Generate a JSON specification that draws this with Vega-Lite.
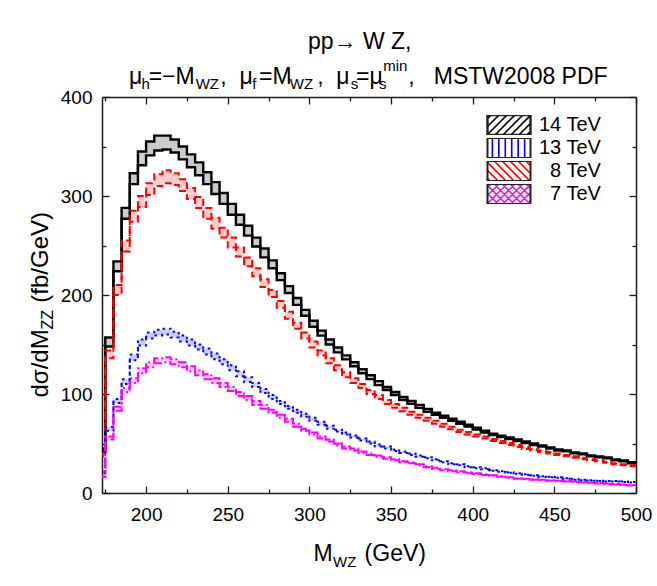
{
  "$schema": "https://vega.github.io/schema/vega-lite/v6.json",
  "width": 534,
  "height": 396,
  "autosize": {"type": "none"},
  "padding": {"left": 102, "top": 97, "right": 21, "bottom": 93},
  "background": "white",
  "config": {
    "font": "Liberation Sans",
    "view": {"stroke": null},
    "axis": {"grid": false, "domainColor": "#1a1a1a", "domainWidth": 1.5, "tickColor": "#1a1a1a", "tickWidth": 1.3, "labelFont": "Liberation Sans", "labelFontSize": 19, "labelColor": "#000", "titleFont": "Liberation Sans", "titleFontWeight": "normal", "titleColor": "#000", "labelFlush": false, "labelOverlap": false, "labelBound": false},
    "title": {"font": "Liberation Sans", "fontWeight": "normal", "color": "#000", "subtitleFont": "Liberation Sans", "subtitleColor": "#000"}
  },
  "title": {
    "text": ["\u200b\u00a0\u00a0\u00a0\u00a0\u00a0\u00a0\u00a0\u00a0\u00a0\u00a0\u00a0\u00a0\u00a0\u00a0\u00a0\u00a0\u00a0\u00a0\u00a0\u00a0\u00a0\u00a0\u00a0\u00a0\u00a0\u00a0\u00a0\u00a0pp\u2192 W Z,", "\u03bc\u00a0=\u2212M\u00a0\u00a0\u00a0\u00a0,\u00a0\u00a0\u03bc\u00a0=M\u00a0\u00a0\u00a0\u00a0,\u00a0\u00a0\u03bc\u00a0=\u03bc\u00a0\u00a0\u00a0\u00a0,\u00a0\u00a0\u00a0MSTW2008 PDF"],
    "subtitle": ["\u200b\u00a0\u00a0\u00a0\u00a0\u00a0\u00a0\u00a0\u00a0\u00a0\u00a0\u00a0\u00a0\u00a0\u00a0\u00a0\u00a0\u00a0\u00a0\u00a0\u00a0\u00a0\u00a0\u00a0\u00a0\u00a0\u00a0\u00a0\u00a0\u00a0\u00a0\u00a0\u00a0\u00a0\u00a0\u00a0\u00a0\u00a0\u00a0\u00a0\u00a0\u00a0\u00a0\u00a0\u00a0\u00a0\u00a0\u00a0\u00a0\u00a0\u00a0\u00a0\u00a0\u00a0\u00a0\u00a0\u00a0\u00a0\u00a0\u00a0\u00a0\u00a0min", "\u200b\u00a0\u00a0\u00a0h\u00a0\u00a0\u00a0\u00a0\u00a0\u00a0\u00a0\u00a0\u00a0\u00a0\u00a0WZ\u00a0\u00a0\u00a0\u00a0\u00a0\u00a0\u00a0\u00a0f\u00a0\u00a0\u00a0\u00a0\u00a0\u00a0\u00a0\u00a0WZ\u00a0\u00a0\u00a0\u00a0\u00a0\u00a0\u00a0\u00a0\u00a0s\u00a0\u00a0\u00a0\u00a0\u00a0s"],
    "anchor": "start",
    "frame": "group",
    "align": "left",
    "dx": 27,
    "offset": -4,
    "fontSize": 23,
    "lineHeight": 35,
    "subtitleFontSize": 15,
    "subtitleLineHeight": 18,
    "subtitlePadding": -30
  },
  "data": {"values": [
    {"x":170,"s":"14 TeV","hi":45,"lo":42},{"x":175,"s":"14 TeV","hi":157,"lo":148},{"x":180,"s":"14 TeV","hi":234,"lo":224},{"x":185,"s":"14 TeV","hi":288,"lo":277},{"x":190,"s":"14 TeV","hi":323,"lo":312},{"x":195,"s":"14 TeV","hi":345,"lo":331},{"x":200,"s":"14 TeV","hi":355,"lo":341},{"x":205,"s":"14 TeV","hi":361,"lo":346},{"x":210,"s":"14 TeV","hi":361,"lo":347},{"x":215,"s":"14 TeV","hi":357,"lo":344},{"x":220,"s":"14 TeV","hi":350,"lo":337},{"x":225,"s":"14 TeV","hi":342,"lo":329},{"x":230,"s":"14 TeV","hi":334,"lo":321},{"x":235,"s":"14 TeV","hi":324,"lo":312},{"x":240,"s":"14 TeV","hi":314,"lo":302},{"x":245,"s":"14 TeV","hi":303,"lo":292},{"x":250,"s":"14 TeV","hi":292,"lo":281},{"x":255,"s":"14 TeV","hi":281,"lo":271},{"x":260,"s":"14 TeV","hi":270,"lo":260},{"x":265,"s":"14 TeV","hi":258,"lo":249},{"x":270,"s":"14 TeV","hi":247,"lo":238},{"x":275,"s":"14 TeV","hi":235,"lo":227},{"x":280,"s":"14 TeV","hi":222,"lo":215},{"x":285,"s":"14 TeV","hi":209,"lo":202},{"x":290,"s":"14 TeV","hi":197,"lo":190},{"x":295,"s":"14 TeV","hi":185,"lo":179},{"x":300,"s":"14 TeV","hi":174,"lo":168},{"x":305,"s":"14 TeV","hi":164,"lo":159},{"x":310,"s":"14 TeV","hi":155,"lo":150},{"x":315,"s":"14 TeV","hi":147,"lo":142},{"x":320,"s":"14 TeV","hi":139,"lo":135},{"x":325,"s":"14 TeV","hi":132,"lo":128},{"x":330,"s":"14 TeV","hi":125,"lo":121},{"x":335,"s":"14 TeV","hi":119,"lo":115},{"x":340,"s":"14 TeV","hi":113,"lo":109},{"x":345,"s":"14 TeV","hi":107,"lo":104},{"x":350,"s":"14 TeV","hi":102,"lo":99},{"x":355,"s":"14 TeV","hi":97,"lo":94},{"x":360,"s":"14 TeV","hi":93,"lo":90},{"x":365,"s":"14 TeV","hi":89,"lo":86},{"x":370,"s":"14 TeV","hi":85,"lo":82},{"x":375,"s":"14 TeV","hi":81,"lo":79},{"x":380,"s":"14 TeV","hi":78,"lo":76},{"x":385,"s":"14 TeV","hi":75,"lo":73},{"x":390,"s":"14 TeV","hi":72,"lo":70},{"x":395,"s":"14 TeV","hi":69,"lo":67},{"x":400,"s":"14 TeV","hi":66,"lo":64},{"x":405,"s":"14 TeV","hi":63,"lo":61},{"x":410,"s":"14 TeV","hi":60,"lo":58.5},{"x":415,"s":"14 TeV","hi":58,"lo":56.5},{"x":420,"s":"14 TeV","hi":56,"lo":54.5},{"x":425,"s":"14 TeV","hi":54,"lo":52.5},{"x":430,"s":"14 TeV","hi":52,"lo":50.5},{"x":435,"s":"14 TeV","hi":50,"lo":48.5},{"x":440,"s":"14 TeV","hi":48,"lo":47},{"x":445,"s":"14 TeV","hi":46,"lo":45},{"x":450,"s":"14 TeV","hi":44,"lo":43},{"x":455,"s":"14 TeV","hi":43,"lo":42},{"x":460,"s":"14 TeV","hi":41,"lo":40},{"x":465,"s":"14 TeV","hi":40,"lo":39},{"x":470,"s":"14 TeV","hi":38,"lo":37},{"x":475,"s":"14 TeV","hi":37,"lo":36},{"x":480,"s":"14 TeV","hi":36,"lo":35},{"x":485,"s":"14 TeV","hi":34,"lo":33},{"x":490,"s":"14 TeV","hi":33,"lo":32},{"x":495,"s":"14 TeV","hi":31,"lo":30},{"x":500,"s":"14 TeV","hi":31,"lo":30},
    {"x":170,"s":"8 TeV","hi":40,"lo":37},{"x":175,"s":"8 TeV","hi":144,"lo":136},{"x":180,"s":"8 TeV","hi":210,"lo":200},{"x":185,"s":"8 TeV","hi":255,"lo":244},{"x":190,"s":"8 TeV","hi":285,"lo":274},{"x":195,"s":"8 TeV","hi":300,"lo":289},{"x":200,"s":"8 TeV","hi":313,"lo":301},{"x":205,"s":"8 TeV","hi":322,"lo":310},{"x":210,"s":"8 TeV","hi":326,"lo":313},{"x":215,"s":"8 TeV","hi":323,"lo":311},{"x":220,"s":"8 TeV","hi":317,"lo":305},{"x":225,"s":"8 TeV","hi":308,"lo":297},{"x":230,"s":"8 TeV","hi":299,"lo":288},{"x":235,"s":"8 TeV","hi":288,"lo":277},{"x":240,"s":"8 TeV","hi":278,"lo":267},{"x":245,"s":"8 TeV","hi":268,"lo":258},{"x":250,"s":"8 TeV","hi":258,"lo":248},{"x":255,"s":"8 TeV","hi":248,"lo":239},{"x":260,"s":"8 TeV","hi":238,"lo":229},{"x":265,"s":"8 TeV","hi":227,"lo":219},{"x":270,"s":"8 TeV","hi":216,"lo":208},{"x":275,"s":"8 TeV","hi":205,"lo":198},{"x":280,"s":"8 TeV","hi":194,"lo":187},{"x":285,"s":"8 TeV","hi":183,"lo":176},{"x":290,"s":"8 TeV","hi":172,"lo":166},{"x":295,"s":"8 TeV","hi":162,"lo":156},{"x":300,"s":"8 TeV","hi":153,"lo":147},{"x":305,"s":"8 TeV","hi":144,"lo":139},{"x":310,"s":"8 TeV","hi":136,"lo":131},{"x":315,"s":"8 TeV","hi":129,"lo":124},{"x":320,"s":"8 TeV","hi":122,"lo":117},{"x":325,"s":"8 TeV","hi":116,"lo":111},{"x":330,"s":"8 TeV","hi":110,"lo":106},{"x":335,"s":"8 TeV","hi":104,"lo":100},{"x":340,"s":"8 TeV","hi":99,"lo":95},{"x":345,"s":"8 TeV","hi":94,"lo":90},{"x":350,"s":"8 TeV","hi":90,"lo":86},{"x":355,"s":"8 TeV","hi":86,"lo":82.5},{"x":360,"s":"8 TeV","hi":82,"lo":79},{"x":365,"s":"8 TeV","hi":79,"lo":76},{"x":370,"s":"8 TeV","hi":76,"lo":73},{"x":375,"s":"8 TeV","hi":73,"lo":70},{"x":380,"s":"8 TeV","hi":70,"lo":67},{"x":385,"s":"8 TeV","hi":67,"lo":64.5},{"x":390,"s":"8 TeV","hi":64,"lo":61.5},{"x":395,"s":"8 TeV","hi":61.5,"lo":59},{"x":400,"s":"8 TeV","hi":59,"lo":57},{"x":405,"s":"8 TeV","hi":57,"lo":55},{"x":410,"s":"8 TeV","hi":54.5,"lo":52.5},{"x":415,"s":"8 TeV","hi":52.5,"lo":50.5},{"x":420,"s":"8 TeV","hi":50.5,"lo":48.5},{"x":425,"s":"8 TeV","hi":48.5,"lo":46.5},{"x":430,"s":"8 TeV","hi":46.5,"lo":44.5},{"x":435,"s":"8 TeV","hi":44.5,"lo":43},{"x":440,"s":"8 TeV","hi":43,"lo":41.5},{"x":445,"s":"8 TeV","hi":41.5,"lo":40},{"x":450,"s":"8 TeV","hi":40,"lo":38.5},{"x":455,"s":"8 TeV","hi":38.5,"lo":37},{"x":460,"s":"8 TeV","hi":37,"lo":35.5},{"x":465,"s":"8 TeV","hi":35.5,"lo":34},{"x":470,"s":"8 TeV","hi":34,"lo":33},{"x":475,"s":"8 TeV","hi":33,"lo":32},{"x":480,"s":"8 TeV","hi":31.5,"lo":30.5},{"x":485,"s":"8 TeV","hi":30,"lo":29},{"x":490,"s":"8 TeV","hi":29,"lo":28},{"x":495,"s":"8 TeV","hi":28,"lo":27},{"x":500,"s":"8 TeV","hi":28,"lo":27},
    {"x":170,"s":"13 TeV","hi":22,"lo":20},{"x":175,"s":"13 TeV","hi":67,"lo":63},{"x":180,"s":"13 TeV","hi":95,"lo":91},{"x":185,"s":"13 TeV","hi":115,"lo":110},{"x":190,"s":"13 TeV","hi":140,"lo":134},{"x":195,"s":"13 TeV","hi":155,"lo":149},{"x":200,"s":"13 TeV","hi":162,"lo":156},{"x":205,"s":"13 TeV","hi":165,"lo":159},{"x":210,"s":"13 TeV","hi":166,"lo":160},{"x":215,"s":"13 TeV","hi":163,"lo":157},{"x":220,"s":"13 TeV","hi":159,"lo":153},{"x":225,"s":"13 TeV","hi":155,"lo":149},{"x":230,"s":"13 TeV","hi":150,"lo":145},{"x":235,"s":"13 TeV","hi":146,"lo":140},{"x":240,"s":"13 TeV","hi":141,"lo":135},{"x":245,"s":"13 TeV","hi":135,"lo":130},{"x":250,"s":"13 TeV","hi":129,"lo":124},{"x":255,"s":"13 TeV","hi":123,"lo":118},{"x":260,"s":"13 TeV","hi":117,"lo":112},{"x":265,"s":"13 TeV","hi":111,"lo":107},{"x":270,"s":"13 TeV","hi":105,"lo":101},{"x":275,"s":"13 TeV","hi":99,"lo":95},{"x":280,"s":"13 TeV","hi":93,"lo":90},{"x":285,"s":"13 TeV","hi":88,"lo":85},{"x":290,"s":"13 TeV","hi":84,"lo":81},{"x":295,"s":"13 TeV","hi":80,"lo":77},{"x":300,"s":"13 TeV","hi":76,"lo":73},{"x":305,"s":"13 TeV","hi":72,"lo":69},{"x":310,"s":"13 TeV","hi":68,"lo":65},{"x":315,"s":"13 TeV","hi":64,"lo":62},{"x":320,"s":"13 TeV","hi":61,"lo":59},{"x":325,"s":"13 TeV","hi":58,"lo":56},{"x":330,"s":"13 TeV","hi":55,"lo":53},{"x":335,"s":"13 TeV","hi":52,"lo":50},{"x":340,"s":"13 TeV","hi":49,"lo":47},{"x":345,"s":"13 TeV","hi":47,"lo":45},{"x":350,"s":"13 TeV","hi":44,"lo":42.5},{"x":355,"s":"13 TeV","hi":42,"lo":40.5},{"x":360,"s":"13 TeV","hi":40,"lo":38.5},{"x":365,"s":"13 TeV","hi":38,"lo":36.5},{"x":370,"s":"13 TeV","hi":36,"lo":35},{"x":375,"s":"13 TeV","hi":34,"lo":33},{"x":380,"s":"13 TeV","hi":32,"lo":31},{"x":385,"s":"13 TeV","hi":30,"lo":29},{"x":390,"s":"13 TeV","hi":29,"lo":28},{"x":395,"s":"13 TeV","hi":27,"lo":26},{"x":400,"s":"13 TeV","hi":26,"lo":25},{"x":405,"s":"13 TeV","hi":25,"lo":24},{"x":410,"s":"13 TeV","hi":23,"lo":22.5},{"x":415,"s":"13 TeV","hi":22,"lo":21.5},{"x":420,"s":"13 TeV","hi":21,"lo":20.5},{"x":425,"s":"13 TeV","hi":20,"lo":19.5},{"x":430,"s":"13 TeV","hi":19,"lo":18.5},{"x":435,"s":"13 TeV","hi":18,"lo":17.5},{"x":440,"s":"13 TeV","hi":17,"lo":16.5},{"x":445,"s":"13 TeV","hi":16.5,"lo":16},{"x":450,"s":"13 TeV","hi":16,"lo":15.5},{"x":455,"s":"13 TeV","hi":15,"lo":14.5},{"x":460,"s":"13 TeV","hi":14,"lo":13.5},{"x":465,"s":"13 TeV","hi":13.5,"lo":13},{"x":470,"s":"13 TeV","hi":13,"lo":12.5},{"x":475,"s":"13 TeV","hi":12.5,"lo":12},{"x":480,"s":"13 TeV","hi":12,"lo":11.5},{"x":485,"s":"13 TeV","hi":12,"lo":11.5},{"x":490,"s":"13 TeV","hi":11.5,"lo":11},{"x":495,"s":"13 TeV","hi":11,"lo":10.5},{"x":500,"s":"13 TeV","hi":11,"lo":10.5},
    {"x":170,"s":"7 TeV","hi":17,"lo":16},{"x":175,"s":"7 TeV","hi":57,"lo":54},{"x":180,"s":"7 TeV","hi":87,"lo":83},{"x":185,"s":"7 TeV","hi":106,"lo":102},{"x":190,"s":"7 TeV","hi":116,"lo":111},{"x":195,"s":"7 TeV","hi":126,"lo":121},{"x":200,"s":"7 TeV","hi":132,"lo":127},{"x":205,"s":"7 TeV","hi":136,"lo":131},{"x":210,"s":"7 TeV","hi":137,"lo":132},{"x":215,"s":"7 TeV","hi":135,"lo":130},{"x":220,"s":"7 TeV","hi":132,"lo":127},{"x":225,"s":"7 TeV","hi":128,"lo":123},{"x":230,"s":"7 TeV","hi":124,"lo":119},{"x":235,"s":"7 TeV","hi":120,"lo":115},{"x":240,"s":"7 TeV","hi":116,"lo":111},{"x":245,"s":"7 TeV","hi":111,"lo":107},{"x":250,"s":"7 TeV","hi":107,"lo":103},{"x":255,"s":"7 TeV","hi":102,"lo":98},{"x":260,"s":"7 TeV","hi":98,"lo":94},{"x":265,"s":"7 TeV","hi":93,"lo":89},{"x":270,"s":"7 TeV","hi":89,"lo":85},{"x":275,"s":"7 TeV","hi":84,"lo":81},{"x":280,"s":"7 TeV","hi":79,"lo":76},{"x":285,"s":"7 TeV","hi":75,"lo":72},{"x":290,"s":"7 TeV","hi":70,"lo":67},{"x":295,"s":"7 TeV","hi":65,"lo":63},{"x":300,"s":"7 TeV","hi":61,"lo":59},{"x":305,"s":"7 TeV","hi":57,"lo":55},{"x":310,"s":"7 TeV","hi":54,"lo":52},{"x":315,"s":"7 TeV","hi":50,"lo":48},{"x":320,"s":"7 TeV","hi":47,"lo":45},{"x":325,"s":"7 TeV","hi":45,"lo":43},{"x":330,"s":"7 TeV","hi":42,"lo":40.5},{"x":335,"s":"7 TeV","hi":40,"lo":38.5},{"x":340,"s":"7 TeV","hi":38,"lo":36.5},{"x":345,"s":"7 TeV","hi":36,"lo":34.5},{"x":350,"s":"7 TeV","hi":34,"lo":33},{"x":355,"s":"7 TeV","hi":32,"lo":31},{"x":360,"s":"7 TeV","hi":31,"lo":30},{"x":365,"s":"7 TeV","hi":29,"lo":28},{"x":370,"s":"7 TeV","hi":27,"lo":26},{"x":375,"s":"7 TeV","hi":25.5,"lo":24.5},{"x":380,"s":"7 TeV","hi":24,"lo":23},{"x":385,"s":"7 TeV","hi":23,"lo":22},{"x":390,"s":"7 TeV","hi":22,"lo":21},{"x":395,"s":"7 TeV","hi":21,"lo":20},{"x":400,"s":"7 TeV","hi":20,"lo":19.3},{"x":405,"s":"7 TeV","hi":19,"lo":18.3},{"x":410,"s":"7 TeV","hi":18,"lo":17.3},{"x":415,"s":"7 TeV","hi":17,"lo":16.4},{"x":420,"s":"7 TeV","hi":16,"lo":15.4},{"x":425,"s":"7 TeV","hi":15,"lo":14.5},{"x":430,"s":"7 TeV","hi":14.5,"lo":14},{"x":435,"s":"7 TeV","hi":14,"lo":13.5},{"x":440,"s":"7 TeV","hi":13.5,"lo":13},{"x":445,"s":"7 TeV","hi":13,"lo":12.5},{"x":450,"s":"7 TeV","hi":12.5,"lo":12},{"x":455,"s":"7 TeV","hi":12,"lo":11.6},{"x":460,"s":"7 TeV","hi":11.5,"lo":11.1},{"x":465,"s":"7 TeV","hi":11,"lo":10.6},{"x":470,"s":"7 TeV","hi":10.5,"lo":10.1},{"x":475,"s":"7 TeV","hi":10,"lo":9.6},{"x":480,"s":"7 TeV","hi":9.5,"lo":9.1},{"x":485,"s":"7 TeV","hi":9,"lo":8.7},{"x":490,"s":"7 TeV","hi":8.5,"lo":8.2},{"x":495,"s":"7 TeV","hi":8,"lo":7.7},{"x":500,"s":"7 TeV","hi":8,"lo":7.7}
  ]},
  "resolve": {"axis": {"x": "independent", "y": "independent"}},
  "layer": [
    {
      "mark": {"type": "area", "interpolate": "step-after", "clip": true, "fillOpacity": 0.2},
      "encoding": {
        "x": {"field": "x", "type": "quantitative", "scale": {"domain": [173, 500], "nice": false, "zero": false},
          "axis": {"orient": "bottom", "values": [175,200,225,250,275,300,325,350,375,400,425,450,475,500],
            "tickSize": {"condition": {"test": "datum.value % 50 === 0", "value": -7}, "value": -4},
            "labelExpr": "datum.value % 50 === 0 ? datum.label : ''", "labelPadding": 19,
            "title": "M\u00a0\u00a0\u00a0\u00a0 (GeV)", "titleFontSize": 23, "titleX": 211, "titleY": 67, "titleAlign": "left", "titleBaseline": "alphabetic"}},
        "y": {"field": "hi", "type": "quantitative", "scale": {"domain": [0, 400], "nice": false},
          "axis": {"orient": "left", "values": [0,50,100,150,200,250,300,350,400],
            "tickSize": {"condition": {"test": "datum.value % 100 === 0", "value": -7}, "value": -4},
            "labelExpr": "datum.value % 100 === 0 ? datum.label : ''", "labelPadding": 17,
            "title": "d\u03c3/dM\u00a0\u00a0\u00a0 (fb/GeV)", "titleFontSize": 24, "titleAngle": 270, "titleX": -55, "titleY": 300, "titleAlign": "left", "titleBaseline": "alphabetic"}},
        "y2": {"field": "lo"},
        "fill": {"field": "s", "type": "nominal", "scale": {"domain": ["14 TeV", "13 TeV", "8 TeV", "7 TeV", "+"], "range": ["#000000", "#0000ff", "#ff0000", "#ff00ff", "#000000"]}, "legend": null}
      }
    },
    {
      "transform": [{"fold": ["hi", "lo"], "as": ["edge", "val"]}],
      "mark": {"type": "line", "interpolate": "step-after", "clip": true},
      "encoding": {
        "x": {"field": "x", "type": "quantitative", "scale": {"domain": [173, 500], "nice": false, "zero": false},
          "axis": {"orient": "top", "values": [175,200,225,250,275,300,325,350,375,400,425,450,475,500],
            "tickSize": {"condition": {"test": "datum.value % 50 === 0", "value": -7}, "value": -4},
            "labels": false,
            "title": "WZ", "titleFontSize": 15, "titleX": 230.5, "titleY": 469, "titleAlign": "left", "titleBaseline": "alphabetic"}},
        "y": {"field": "val", "type": "quantitative", "scale": {"domain": [0, 400], "nice": false},
          "axis": {"orient": "right", "values": [0,50,100,150,200,250,300,350,400],
            "tickSize": {"condition": {"test": "datum.value % 100 === 0", "value": -7}, "value": -4},
            "labels": false,
            "title": "ZZ", "titleFontSize": 16, "titleAngle": 270, "titleX": -584, "titleY": 232, "titleAlign": "left", "titleBaseline": "alphabetic"}},
        "detail": {"field": "edge", "type": "nominal"},
        "stroke": {"field": "s", "type": "nominal", "scale": {"domain": ["14 TeV", "13 TeV", "8 TeV", "7 TeV"], "range": ["#000000", "#0000ff", "#ff0000", "#ff00ff"]},
          "legend": {"orient": "none", "legendX": 384, "legendY": 18, "title": null, "padding": 0, "symbolSize": 1849, "symbolStrokeWidth": 1.5, "clipHeight": 20, "rowPadding": 3,
            "labelFont": "Liberation Sans", "labelFontSize": 20, "labelColor": "#000", "labelOffset": 8, "labelLimit": 300,
            "labelExpr": "length(datum.label) < 6 ? '\u200b\u00a0\u00a0' + datum.label : datum.label",
            "encode": {"symbols": {"update": {
              "shape": {"signal": "datum.value === '14 TeV' ? 'M-1,-0.275L-0.81,-0.465M-1,0.095L-0.44,-0.465M-1,0.465L-0.07,-0.465M-0.63,0.465L0.3,-0.465M-0.26,0.465L0.67,-0.465M0.11,0.465L1,-0.425M0.48,0.465L1,-0.055M0.85,0.465L1,0.315' : datum.value === '13 TeV' ? 'M-0.75,-0.465V0.465M-0.45,-0.465V0.465M-0.15,-0.465V0.465M0.15,-0.465V0.465M0.45,-0.465V0.465M0.75,-0.465V0.465' : datum.value === '8 TeV' ? 'M1,-0.275L0.81,-0.465M1,0.095L0.44,-0.465M1,0.465L0.07,-0.465M0.63,0.465L-0.3,-0.465M0.26,0.465L-0.67,-0.465M-0.11,0.465L-1,-0.425M-0.48,0.465L-1,-0.055M-0.85,0.465L-1,0.315' : 'M-1,-0.275L-0.81,-0.465M-1,0.095L-0.44,-0.465M-1,0.465L-0.07,-0.465M-0.63,0.465L0.3,-0.465M-0.26,0.465L0.67,-0.465M0.11,0.465L1,-0.425M0.48,0.465L1,-0.055M0.85,0.465L1,0.315M1,-0.275L0.81,-0.465M1,0.095L0.44,-0.465M1,0.465L0.07,-0.465M0.63,0.465L-0.3,-0.465M0.26,0.465L-0.67,-0.465M-0.11,0.465L-1,-0.425M-0.48,0.465L-1,-0.055M-0.85,0.465L-1,0.315'"},
              "strokeDash": {"value": []},
              "fill": {"value": "transparent"},
              "strokeWidth": {"value": 1.6},
              "opacity": {"value": 1}
            }}}}},
        "strokeDash": {"field": "s", "type": "nominal", "scale": {"domain": ["14 TeV", "13 TeV", "8 TeV", "7 TeV", "-"], "range": [[1, 0], [2.5, 4], [7, 4], [9, 3, 2, 3], [1, 0]]}, "legend": null},
        "strokeWidth": {"field": "s", "type": "nominal", "scale": {"type": "ordinal", "domain": ["14 TeV", "13 TeV", "8 TeV", "7 TeV", "~"], "range": [2.4, 2, 2, 2, 2]},
          "legend": {"orient": "none", "legendX": 384, "legendY": 18, "title": null, "padding": 0, "values": ["14 TeV", "13 TeV", "8 TeV", "7 TeV"],
            "symbolType": "M-1,-0.465H1V0.465H-1Z", "symbolSize": 1849, "symbolStrokeWidth": 1.5, "clipHeight": 20, "rowPadding": 3,
            "labelFont": "Liberation Sans", "labelFontSize": 20, "labelOpacity": 0, "labelOffset": 8, "labelLimit": 300,
            "labelExpr": "length(datum.label) < 6 ? '\u200b\u00a0\u00a0' + datum.label : datum.label",
            "encode": {"symbols": {"update": {
              "shape": {"value": "M-1,-0.465H1V0.465H-1Z"},
              "stroke": {"value": "#222222"},
              "strokeDash": {"value": []},
              "fill": {"value": "transparent"},
              "strokeWidth": {"value": 1.3},
              "opacity": {"value": 1}
            }}}}}
      }
    }
  ]
}
